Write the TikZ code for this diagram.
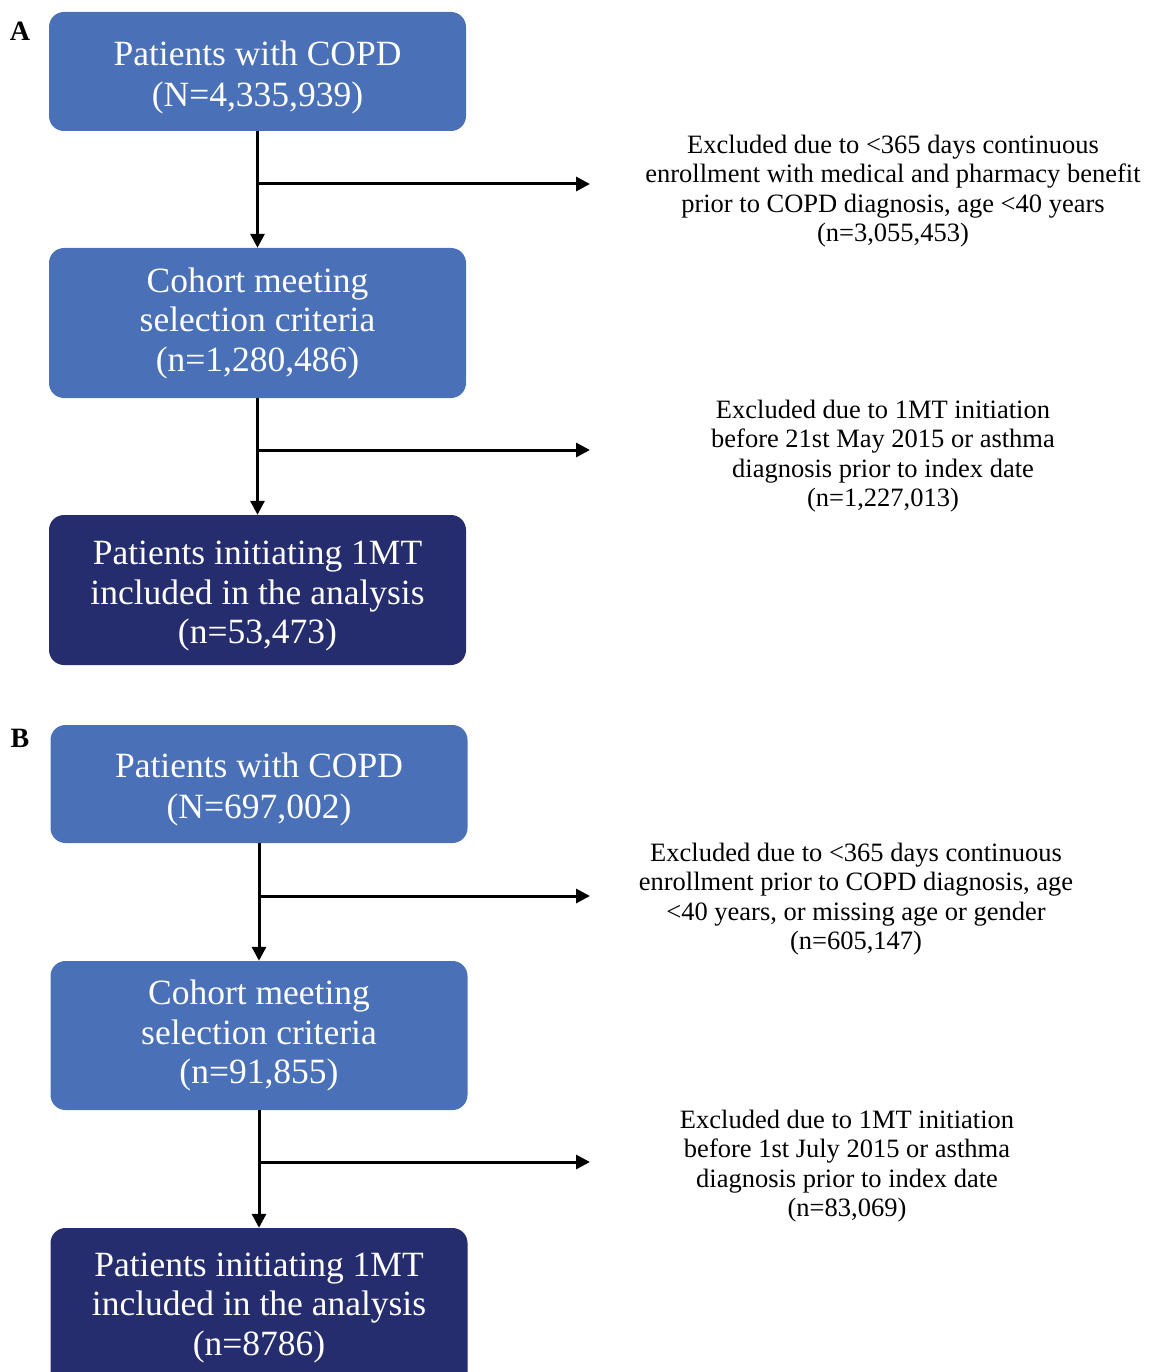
\documentclass[tikz,border=0pt]{standalone}
\usepackage{fontspec}
\setmainfont{Liberation Serif}
\usetikzlibrary{arrows.meta}
\definecolor{boxlight}{HTML}{4A70B7}
\definecolor{boxdark}{HTML}{252D6E}
\newcommand{\downstrut}{\rule{0pt}{36pt}}
\tikzset{
  flowbox/.style={fill=boxlight, rounded corners=15pt, minimum width=417pt, text=white, align=center, inner sep=0pt,
    font=\fontsize{35.5}{39.5}\selectfont},
  twoline/.style={font=\fontsize{35.5}{41}\selectfont},
  finalbox/.style={flowbox, fill=boxdark},
  conn/.style={line width=3pt, -{Triangle[length=14pt,width=14pt]}},
  excl/.style={align=center, inner sep=0pt, font=\fontsize{26.5}{29.5}\selectfont},
  panel/.style={font=\bfseries\fontsize{28}{30}\selectfont, inner sep=0pt}
}
\begin{document}
\begin{tikzpicture}[x=1pt,y=-1pt]
\useasboundingbox (0,0) rectangle (1149,1372);
\clip (0,0) rectangle (1149,1372);
% Panel A
\node[panel] (labA) at (20,31) {A};
\node[flowbox, twoline, minimum height=119pt] (a1) at (257.5,71.5) {\downstrut Patients with COPD\\(N=4,335,939)};
\node[flowbox, minimum height=150pt] (a2) at (257.5,323) {Cohort meeting\\selection criteria\\(n=1,280,486)};
\node[finalbox, minimum height=150pt] (a3) at (257.5,590) {\downstrut Patients initiating 1MT\\included in the analysis\\(n=53,473)};
\draw[conn] (a1.south) -- (a2.north);
\draw[conn] (a2.south) -- (a3.north);
\coordinate (a1b) at (257.5,184);
\coordinate (a1e) at (590,184);
\coordinate (a2b) at (257.5,450);
\coordinate (a2e) at (590,450);
\draw[conn] (a1b) -- (a1e);
\draw[conn] (a2b) -- (a2e);
\node[excl] (ea1) at (893,191) {Excluded due to <365 days continuous\\enrollment with medical and pharmacy benefit\\prior to COPD diagnosis, age <40 years\\(n=3,055,453)};
\node[excl] (ea2) at (883,456) {Excluded due to 1MT initiation\\before 21st May 2015 or asthma\\diagnosis prior to index date\\(n=1,227,013)};
% Panel B
\node[panel] (labB) at (20,738) {B};
\node[flowbox, twoline, minimum height=118pt] (b1) at (259,784) {\downstrut Patients with COPD\\(N=697,002)};
\node[flowbox, minimum height=149pt] (b2) at (259,1035.5) {Cohort meeting\\selection criteria\\(n=91,855)};
\node[finalbox, minimum height=160pt] (b3) at (259,1308) {Patients initiating 1MT\\included in the analysis\\(n=8786)};
\draw[conn] (b1.south) -- (b2.north);
\draw[conn] (b2.south) -- (b3.north);
\coordinate (b1b) at (259,896);
\coordinate (b1e) at (590,896);
\coordinate (b2b) at (259,1162);
\coordinate (b2e) at (590,1162);
\draw[conn] (b1b) -- (b1e);
\draw[conn] (b2b) -- (b2e);
\node[excl] (eb1) at (856,899) {Excluded due to <365 days continuous\\enrollment prior to COPD diagnosis, age\\<40 years, or missing age or gender\\(n=605,147)};
\node[excl] (eb2) at (847,1166) {Excluded due to 1MT initiation\\before 1st July 2015 or asthma\\diagnosis prior to index date\\(n=83,069)};
\end{tikzpicture}
\end{document}
